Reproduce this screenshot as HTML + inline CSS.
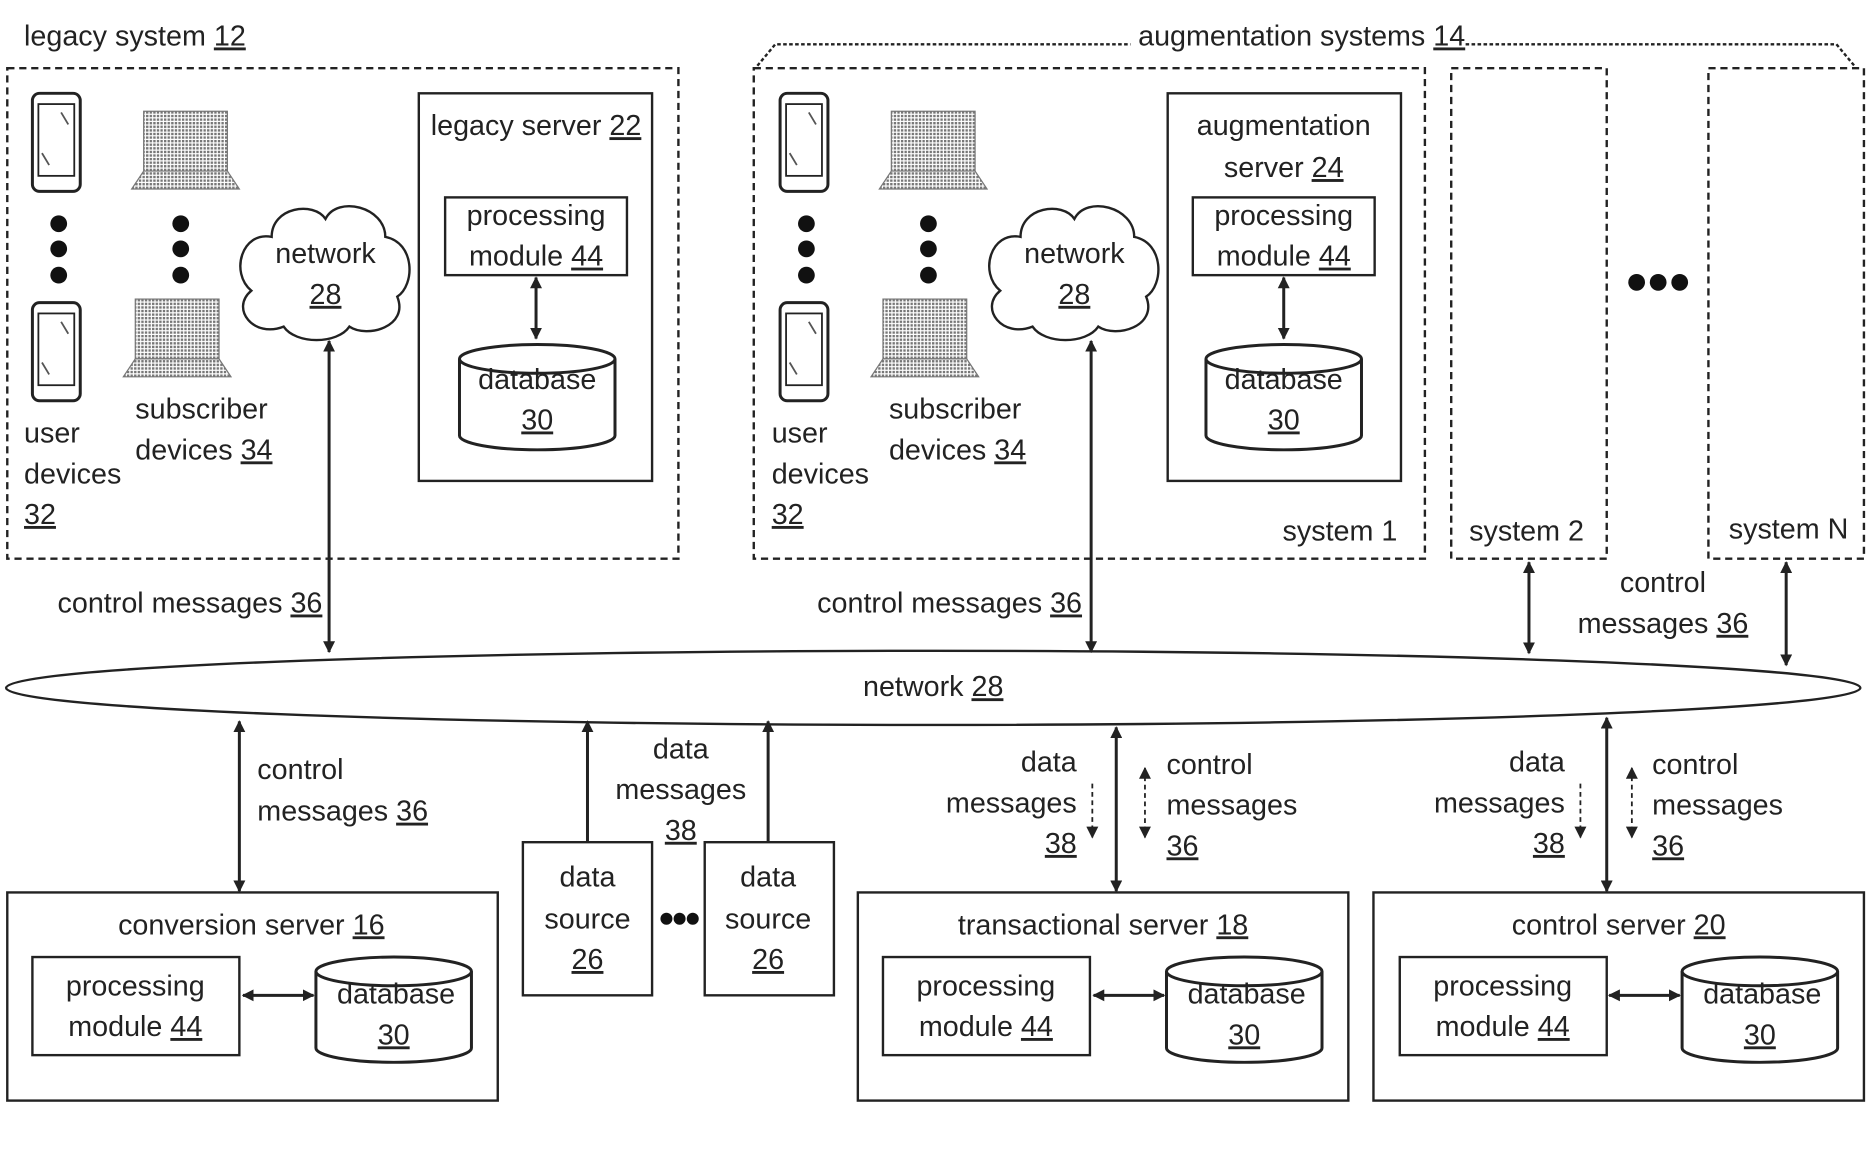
<!DOCTYPE html>
<html><head><meta charset="utf-8"><style>
html,body{margin:0;padding:0;background:#fff;}
svg{display:block}
text{font-family:"Liberation Sans",Arial,sans-serif;font-size:24px;fill:#222;}
.u{text-decoration:underline}
</style></head><body>
<svg width="1876" height="1164" viewBox="0 0 1568 973" xmlns="http://www.w3.org/2000/svg">
<defs>
<marker id="a" markerWidth="10" markerHeight="10" refX="9" refY="5" orient="auto-start-reverse" markerUnits="userSpaceOnUse"><path d="M0,0 L10,5 L0,10 z" fill="#222"/></marker>
<pattern id="dot" width="3" height="3" patternUnits="userSpaceOnUse"><rect width="3" height="3" fill="#fff"/><rect width="2" height="2" fill="#777"/></pattern>
<g id="phone"><rect x="0" y="0" width="40" height="82" rx="6" fill="#fff" stroke="#222" stroke-width="2.5"/><rect x="5" y="9" width="30" height="60" fill="#fff" stroke="#222" stroke-width="1.5"/><path d="M24,16 L30,26 M8,50 L14,60" stroke="#555" stroke-width="1.5"/></g>
<g id="laptop"><rect x="10" y="0" width="70" height="50" fill="url(#dot)" stroke="#777"/><path d="M0,65 L10,50 L80,50 L90,65 z" fill="url(#dot)" stroke="#777"/></g>
<g id="cloud"><path d="M-45,-30 C-45,-55 -10,-60 0,-45 C10,-65 50,-55 50,-30 C75,-25 75,10 60,20 C70,45 35,55 20,45 C10,60 -25,60 -35,45 C-60,55 -80,30 -62,15 C-80,0 -70,-35 -45,-30 z" fill="#fff" stroke="#222" stroke-width="2"/></g>
<g id="db"><path d="M0,12 L0,76 A65,12 0 0 0 130,76 L130,12" fill="#fff" stroke="#222" stroke-width="2.5"/><ellipse cx="65" cy="12" rx="65" ry="12" fill="#fff" stroke="#222" stroke-width="2.5"/></g>
</defs>
<g fill="none" stroke="#222" stroke-width="2">
<!-- legacy -->
<rect x="6" y="57" width="561" height="410" stroke-dasharray="6,4"/>
<rect x="350" y="78" width="195" height="324"/>
<rect x="372" y="165" width="152" height="65"/>
<!-- aug -->
<path d="M633,55 L648,37 L945,37 M1225,37 L1535,37 L1550,55" stroke-dasharray="3,2"/>
<rect x="630" y="57" width="561" height="410" stroke-dasharray="6,4"/>
<rect x="976" y="78" width="195" height="324"/>
<rect x="997" y="165" width="152" height="65"/>
<rect x="1213" y="57" width="130" height="410" stroke-dasharray="6,4"/>
<rect x="1428" y="57" width="130" height="410" stroke-dasharray="6,4"/>
<!-- bottom boxes -->
<rect x="6" y="746" width="410" height="174"/>
<rect x="27" y="800" width="173" height="82"/>
<rect x="437" y="704" width="108" height="128"/>
<rect x="589" y="704" width="108" height="128"/>
<rect x="717" y="746" width="410" height="174"/>
<rect x="738" y="800" width="173" height="82"/>
<rect x="1148" y="746" width="410" height="174"/>
<rect x="1170" y="800" width="173" height="82"/>
</g>
<!-- network ellipse -->
<ellipse cx="780" cy="575" rx="775" ry="31" fill="#fff" stroke="#222" stroke-width="2"/>
<use href="#phone" x="27" y="78"/><use href="#phone" x="27" y="253"/>
<use href="#phone" x="652" y="78"/><use href="#phone" x="652" y="253"/>
<use href="#laptop" x="110" y="93"/><use href="#laptop" x="103" y="250"/>
<use href="#laptop" x="735" y="93"/><use href="#laptop" x="728" y="250"/>
<g fill="#111">
<circle cx="49" cy="187" r="7"/><circle cx="49" cy="208" r="7"/><circle cx="49" cy="230" r="7"/>
<circle cx="151" cy="187" r="7"/><circle cx="151" cy="208" r="7"/><circle cx="151" cy="230" r="7"/>
<circle cx="674" cy="187" r="7"/><circle cx="674" cy="208" r="7"/><circle cx="674" cy="230" r="7"/>
<circle cx="776" cy="187" r="7"/><circle cx="776" cy="208" r="7"/><circle cx="776" cy="230" r="7"/>
<circle cx="1368" cy="236" r="7"/><circle cx="1386" cy="236" r="7"/><circle cx="1404" cy="236" r="7"/>
<circle cx="557" cy="768" r="5"/><circle cx="568" cy="768" r="5"/><circle cx="579" cy="768" r="5"/>
</g>
<use href="#cloud" x="272" y="228"/><use href="#cloud" x="898" y="228"/>
<use href="#db" x="384" y="288"/><use href="#db" x="1008" y="288"/>
<use href="#db" x="264" y="800"/><use href="#db" x="975" y="800"/><use href="#db" x="1406" y="800"/>
<g stroke="#222" stroke-width="2.5" marker-start="url(#a)" marker-end="url(#a)">
<line x1="448" y1="232" x2="448" y2="283"/>
<line x1="1073" y1="232" x2="1073" y2="283"/>
<line x1="275" y1="285" x2="275" y2="545"/>
<line x1="912" y1="285" x2="912" y2="545"/>
<line x1="1278" y1="470" x2="1278" y2="546"/>
<line x1="1493" y1="470" x2="1493" y2="556"/>
<line x1="200" y1="603" x2="200" y2="745"/>
<line x1="933" y1="608" x2="933" y2="745"/>
<line x1="1343" y1="600" x2="1343" y2="745"/>
<line x1="203" y1="832" x2="262" y2="832"/>
<line x1="914" y1="832" x2="973" y2="832"/>
<line x1="1345" y1="832" x2="1404" y2="832"/>
</g>
<g stroke="#222" stroke-width="2.5" marker-end="url(#a)">
<line x1="491" y1="703" x2="491" y2="603"/>
<line x1="642" y1="703" x2="642" y2="603"/>
</g>
<g stroke="#222" stroke-width="1.5" stroke-dasharray="4,3">
<line x1="913" y1="655" x2="913" y2="700" marker-end="url(#a)"/>
<line x1="957" y1="642" x2="957" y2="700" marker-start="url(#a)" marker-end="url(#a)"/>
<line x1="1321" y1="655" x2="1321" y2="700" marker-end="url(#a)"/>
<line x1="1364" y1="642" x2="1364" y2="700" marker-start="url(#a)" marker-end="url(#a)"/>
</g>
<rect x="945" y="20" width="280" height="30" fill="#fff"/>
<g>
<text x="20" y="38">legacy system <tspan class="u">12</tspan></text>
<text x="448" y="113" text-anchor="middle">legacy server <tspan class="u">22</tspan></text>
<text x="448" y="188" text-anchor="middle">processing</text><text x="448" y="222" text-anchor="middle">module <tspan class="u">44</tspan></text>
<text x="449" y="325" text-anchor="middle">database</text><text x="449" y="359" text-anchor="middle" class="u">30</text>
<text x="272" y="220" text-anchor="middle">network</text><text x="272" y="254" text-anchor="middle" class="u">28</text>
<text x="20" y="370">user</text><text x="20" y="404">devices</text><text x="20" y="438" class="u">32</text>
<text x="113" y="350">subscriber</text><text x="113" y="384">devices <tspan class="u">34</tspan></text>
<text x="48" y="512">control messages <tspan class="u">36</tspan></text>
<text x="1088" y="38" text-anchor="middle">augmentation systems <tspan class="u">14</tspan></text>
<text x="1073" y="113" text-anchor="middle">augmentation</text><text x="1073" y="148" text-anchor="middle">server <tspan class="u">24</tspan></text>
<text x="1073" y="188" text-anchor="middle">processing</text><text x="1073" y="222" text-anchor="middle">module <tspan class="u">44</tspan></text>
<text x="1073" y="325" text-anchor="middle">database</text><text x="1073" y="359" text-anchor="middle" class="u">30</text>
<text x="898" y="220" text-anchor="middle">network</text><text x="898" y="254" text-anchor="middle" class="u">28</text>
<text x="645" y="370">user</text><text x="645" y="404">devices</text><text x="645" y="438" class="u">32</text>
<text x="743" y="350">subscriber</text><text x="743" y="384">devices <tspan class="u">34</tspan></text>
<text x="1168" y="452" text-anchor="end">system 1</text>
<text x="1276" y="452" text-anchor="middle">system 2</text>
<text x="1495" y="450" text-anchor="middle">system N</text>
<text x="683" y="512">control messages <tspan class="u">36</tspan></text>
<text x="1390" y="495" text-anchor="middle">control</text><text x="1390" y="529" text-anchor="middle">messages <tspan class="u">36</tspan></text>
<text x="780" y="582" text-anchor="middle">network <tspan class="u">28</tspan></text>
<text x="215" y="651">control</text><text x="215" y="686">messages <tspan class="u">36</tspan></text>
<text x="569" y="634" text-anchor="middle">data</text><text x="569" y="668" text-anchor="middle">messages</text><text x="569" y="702" text-anchor="middle" class="u">38</text>
<text x="900" y="645" text-anchor="end">data</text><text x="900" y="679" text-anchor="end">messages</text><text x="900" y="713" text-anchor="end" class="u">38</text>
<text x="975" y="647">control</text><text x="975" y="681">messages</text><text x="975" y="715" class="u">36</text>
<text x="1308" y="645" text-anchor="end">data</text><text x="1308" y="679" text-anchor="end">messages</text><text x="1308" y="713" text-anchor="end" class="u">38</text>
<text x="1381" y="647">control</text><text x="1381" y="681">messages</text><text x="1381" y="715" class="u">36</text>
<text x="210" y="781" text-anchor="middle">conversion server <tspan class="u">16</tspan></text>
<text x="113" y="832" text-anchor="middle">processing</text><text x="113" y="866" text-anchor="middle">module <tspan class="u">44</tspan></text>
<text x="331" y="839" text-anchor="middle">database</text><text x="329" y="873" text-anchor="middle" class="u">30</text>
<text x="491" y="741" text-anchor="middle">data</text><text x="491" y="776" text-anchor="middle">source</text><text x="491" y="810" text-anchor="middle" class="u">26</text>
<text x="642" y="741" text-anchor="middle">data</text><text x="642" y="776" text-anchor="middle">source</text><text x="642" y="810" text-anchor="middle" class="u">26</text>
<text x="922" y="781" text-anchor="middle">transactional server <tspan class="u">18</tspan></text>
<text x="824" y="832" text-anchor="middle">processing</text><text x="824" y="866" text-anchor="middle">module <tspan class="u">44</tspan></text>
<text x="1042" y="839" text-anchor="middle">database</text><text x="1040" y="873" text-anchor="middle" class="u">30</text>
<text x="1353" y="781" text-anchor="middle">control server <tspan class="u">20</tspan></text>
<text x="1256" y="832" text-anchor="middle">processing</text><text x="1256" y="866" text-anchor="middle">module <tspan class="u">44</tspan></text>
<text x="1473" y="839" text-anchor="middle">database</text><text x="1471" y="873" text-anchor="middle" class="u">30</text>
</g>
</svg>
</body></html>
